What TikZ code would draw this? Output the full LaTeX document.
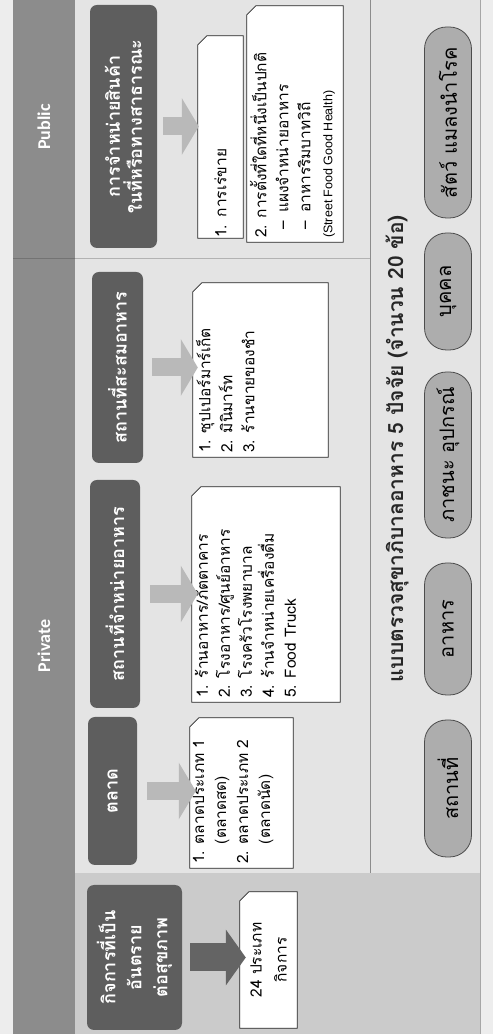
\documentclass[tikz,border=0pt]{standalone}
\usepackage{fontspec}
\setmainfont[Script=Thai]{Loma}
\newfontfamily\latf{Carlito}
\newfontfamily\arialf{Liberation Sans}
\usetikzlibrary{arrows.meta,calc}
\pgfdeclarelayer{back}
\pgfdeclarelayer{boxes}
\pgfsetlayers{back,boxes,main}
\definecolor{bandgray}{HTML}{8C8C8C}
\definecolor{darkbox}{HTML}{5E5E5E}
\definecolor{bgc}{HTML}{E4E4E4}
\definecolor{marginc}{HTML}{EDEDED}
\definecolor{leftbg}{HTML}{CBCBCB}
\definecolor{pillfill}{HTML}{ADADAD}
\definecolor{arrowlight}{HTML}{B9B9B9}
\definecolor{arrowdark}{HTML}{646464}
\newcommand{\topbox}[3]{\parbox[c][#2][t]{#1}{\vspace*{3pt}\raggedright\leftskip=4pt\relax #3}}
\tikzset{
  hdrlabel/.style={text=white, font=\latf\bfseries\fontsize{18}{22}\selectfont, inner sep=0pt},
  hdrbox/.style={fill=darkbox, rounded corners=7pt, text=white, font=\bfseries\fontsize{18}{26}\selectfont, align=center, inner sep=0pt},
  listbox/.style={inner sep=0pt, font=\fontsize{15.5}{22}\selectfont},
  boxline/.style={draw=black!85, fill=white, line width=0.8pt},
  pill/.style={draw=black!70, fill=pillfill, rounded corners=22pt, line width=0.8pt, font=\fontsize{20}{24}\selectfont, inner sep=0pt, minimum height=47pt},
  lightarrow/.style={draw=arrowlight, line width=18pt, -{Triangle[width=56pt,length=17pt]}},
  darkarrow/.style={draw=arrowdark, line width=28pt, -{Triangle[width=55pt,length=20pt]}},
  titlef/.style={font=\bfseries\fontsize{21}{26}\selectfont, text=black!85, inner sep=0pt}
}
\begin{document}
\begin{tikzpicture}[x=1pt, y=1pt, rotate=90, transform shape]
\useasboundingbox (0,0) rectangle (1034,-493);
\begin{pgfonlayer}{back}
\fill[marginc] (0,0) rectangle (1034,-493);
\fill[bgc] (0,-75) rectangle (1034,-480);
\fill[leftbg] (0,-75) rectangle (161,-480);
\fill[bandgray] (0,-13) rectangle (1034,-75);
\draw[black!55, line width=0.8pt] (776,-13) -- (776,-75);
\draw[black!30, line width=0.6pt] (776,-75) -- (776,-370);
\draw[black!45, line width=0.6pt] (161,-370) -- (1034,-370);
\draw[black!35, line width=0.6pt] (0,-480) -- (1034,-480);
\end{pgfonlayer}
% header labels
\node[hdrlabel] (pub) at (907,-44) {Public};
\node[hdrlabel] (priv) at (388,-44) {Private};
% dark header boxes
\node[hdrbox, minimum width=145pt, minimum height=95pt] (h0) at (76.5,-134.5) {กิจการที่เป็น\\อันตราย\\ต่อสุขภาพ};
\node[hdrbox, minimum width=148pt, minimum height=49pt] (h1) at (243,-112.5) {ตลาด};
\node[hdrbox, minimum width=228pt, minimum height=50pt] (h2) at (440,-115) {สถานที่จำหน่ายอาหาร};
\node[hdrbox, minimum width=191pt, minimum height=51pt] (h3) at (666.5,-117.5) {สถานที่สะสมอาหาร};
\node[hdrbox, minimum width=243pt, minimum height=67pt, font=\bfseries\fontsize{18}{22}\selectfont] (h4) at (907.5,-123.5) {การจำหน่ายสินค้า\\ในที่หรือทางสาธารณะ};
% list boxes
\node[listbox, minimum width=136pt, minimum height=57pt, align=center, font=\fontsize{15.5}{25}\selectfont] (l0) at (74,-268.5) {24 ประเภท\\กิจการ};
\node[listbox] (l1) at (241,-241.5) {\topbox{150pt}{103pt}{1. ตลาดประเภท 1\\\hphantom{1. }(ตลาดสด)\\2. ตลาดประเภท 2\\\hphantom{2. }(ตลาดนัด)}};
\node[listbox] (l2) at (439.5,-266) {\topbox{215pt}{148pt}{1. ร้านอาหาร/ภัตตาคาร\\2. โรงอาหาร/ศูนย์อาหาร\\3. โรงครัวโรงพยาบาล\\4. ร้านจำหน่ายเครื่องดื่ม\\5. Food Truck}};
\node[listbox] (l3) at (664,-260.5) {\topbox{174pt}{135pt}{1. ซุปเปอร์มาร์เก็ต\\2. มินิมาร์ท\\3. ร้านขายของชำ}};
\node[listbox, minimum height=45pt, text width=202pt, align=left] (l4a) at (897,-220.5) {1. การเร่ขาย};
\node[listbox] (l4b) at (910,-295) {\topbox{236pt}{96pt}{2. การตั้งที่ใดที่หนึ่งเป็นปกติ\\\hphantom{2}–\hspace{8pt}แผงจำหน่ายอาหาร\\\hphantom{2}–\hspace{8pt}อาหารริมบาทวิถี\\{\arialf\fontsize{12.5}{22}\selectfont (Street Food Good Health)}}};
\begin{pgfonlayer}{boxes}
\foreach \n in {l0,l1,l2,l3,l4a,l4b}
  \filldraw[boxline] (\n.south west) -- (\n.north west) -- ([xshift=-9pt]\n.north east) -- ([yshift=-9pt]\n.north east) -- (\n.south east) -- cycle;
\end{pgfonlayer}
% block arrows
\draw[darkarrow] ([yshift=-8pt]h0.south) -- ([yshift=-6pt]h0.south |- l0.north);
\draw[lightarrow] ([yshift=-10pt]h1.south) -- ([yshift=-6pt]h1.south |- l1.north);
\draw[lightarrow] ([yshift=-10pt]h2.south) -- ([yshift=-6pt]h2.south |- l2.north);
\draw[lightarrow] ([yshift=-9pt]h3.south) -- ([yshift=-5pt]h3.south |- l3.north);
\draw[lightarrow] ([yshift=-6pt]h4.south) -- ([yshift=-1pt]h4.south |- l4a.north);
% title
\node[titlef] (title) at (585,-397) {แบบตรวจสุขาภิบาลอาหาร 5 ปัจจัย (จำนวน 20 ข้อ)};
% pills
\node[pill, minimum width=137pt] (p1) at (245.5,-448) {สถานที่};
\node[pill, minimum width=132pt] (p2) at (405,-448) {อาหาร};
\node[pill, minimum width=166pt] (p3) at (579,-448) {ภาชนะ อุปกรณ์};
\node[pill, minimum width=117pt] (p4) at (742.5,-448) {บุคคล};
\node[pill, minimum width=191pt] (p5) at (911.5,-448) {สัตว์ แมลงนำโรค};
\end{tikzpicture}
\end{document}
